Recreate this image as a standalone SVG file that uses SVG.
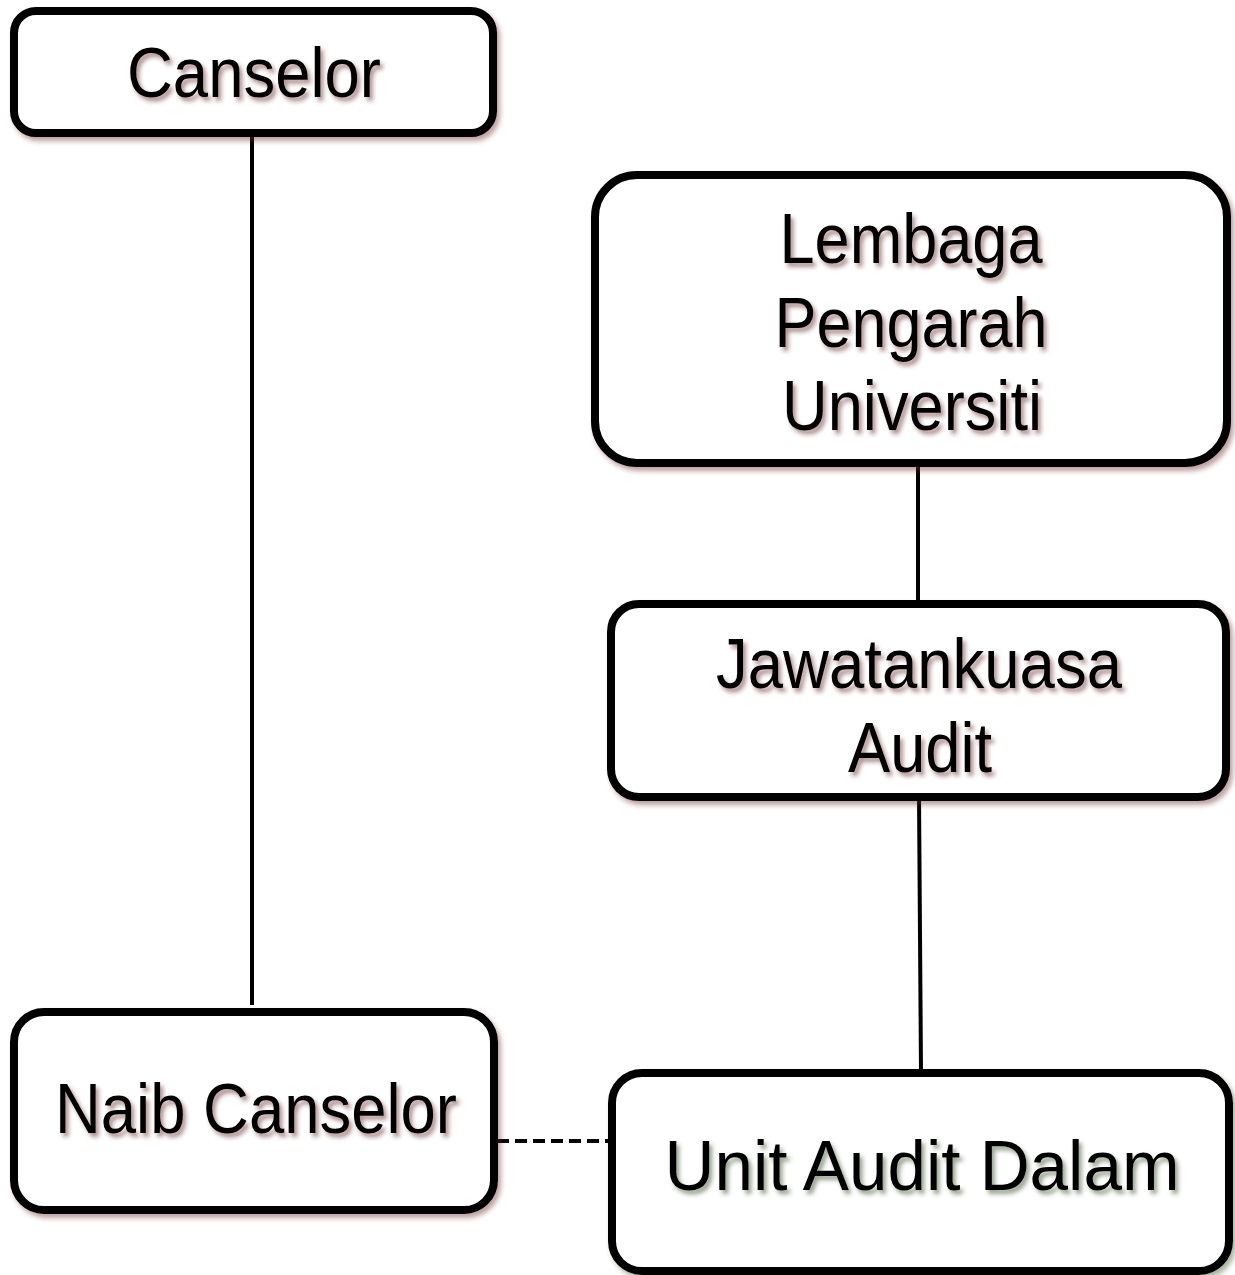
<svg xmlns="http://www.w3.org/2000/svg" width="1235" height="1275" viewBox="0 0 1235 1275">
<defs>
<filter id="shR" x="-10%" y="-10%" width="120%" height="130%">
<feDropShadow dx="3" dy="4" stdDeviation="2.5" flood-color="#6b2a2a" flood-opacity="0.45"/>
</filter>
<filter id="shG" x="-10%" y="-10%" width="120%" height="130%">
<feDropShadow dx="3" dy="4" stdDeviation="2.5" flood-color="#3f5a2a" flood-opacity="0.45"/>
</filter>
<filter id="tsh" x="-10%" y="-20%" width="120%" height="150%">
<feDropShadow dx="3" dy="4" stdDeviation="2" flood-color="#5a2020" flood-opacity="0.5"/>
</filter>
<filter id="tshG" x="-10%" y="-20%" width="120%" height="150%">
<feDropShadow dx="3" dy="4" stdDeviation="2" flood-color="#2f4520" flood-opacity="0.5"/>
</filter>
</defs>
<style>
.box{fill:#ffffff;stroke:#000000;stroke-width:8}
.t{font-family:"Liberation Sans",Arial,sans-serif;font-size:70px;fill:#000000;text-anchor:middle}
.ln{stroke:#000000;stroke-width:4;fill:none}
.dash{stroke:#000000;stroke-width:4;fill:none;stroke-dasharray:12 6}
</style>
<rect width="1235" height="1275" fill="#ffffff"/>
<g id="connectors">
<line class="ln" x1="252" y1="133" x2="252" y2="1005"/>
<line class="ln" x1="918" y1="463" x2="918" y2="600"/>
<line class="ln" x1="919" y1="797" x2="921" y2="1072"/>
<line class="dash" x1="497" y1="1141" x2="612" y2="1141"/>
</g>
<g id="canselor">
<rect class="box" x="14" y="11" width="479" height="122" rx="22" filter="url(#shR)"/>
<text class="t" x="254" y="97" textLength="254" lengthAdjust="spacingAndGlyphs" filter="url(#tsh)">Canselor</text>
</g>
<g id="lembaga">
<rect class="box" x="595" y="175" width="632" height="288" rx="42" filter="url(#shR)"/>
<text class="t" x="911" y="263" textLength="263" lengthAdjust="spacingAndGlyphs" filter="url(#tsh)">Lembaga</text>
<text class="t" x="911" y="347" textLength="273" lengthAdjust="spacingAndGlyphs" filter="url(#tsh)">Pengarah</text>
<text class="t" x="912" y="430" textLength="260" lengthAdjust="spacingAndGlyphs" filter="url(#tsh)">Universiti</text>
</g>
<g id="jawatankuasa">
<rect class="box" x="611" y="604" width="615" height="193" rx="28" filter="url(#shR)"/>
<text class="t" x="919" y="688" textLength="406" lengthAdjust="spacingAndGlyphs" filter="url(#tsh)">Jawatankuasa</text>
<text class="t" x="920" y="772" textLength="144" lengthAdjust="spacingAndGlyphs" filter="url(#tsh)">Audit</text>
</g>
<g id="naib">
<rect class="box" x="14" y="1012" width="480" height="198" rx="30" filter="url(#shR)"/>
<text class="t" x="256" y="1133" textLength="402" lengthAdjust="spacingAndGlyphs" filter="url(#tsh)">Naib Canselor</text>
</g>
<g id="unit">
<rect class="box" x="612" y="1073" width="617" height="198" rx="30" filter="url(#shG)"/>
<text class="t" x="922" y="1190" textLength="515" lengthAdjust="spacingAndGlyphs" filter="url(#tshG)">Unit Audit Dalam</text>
</g>
</svg>
